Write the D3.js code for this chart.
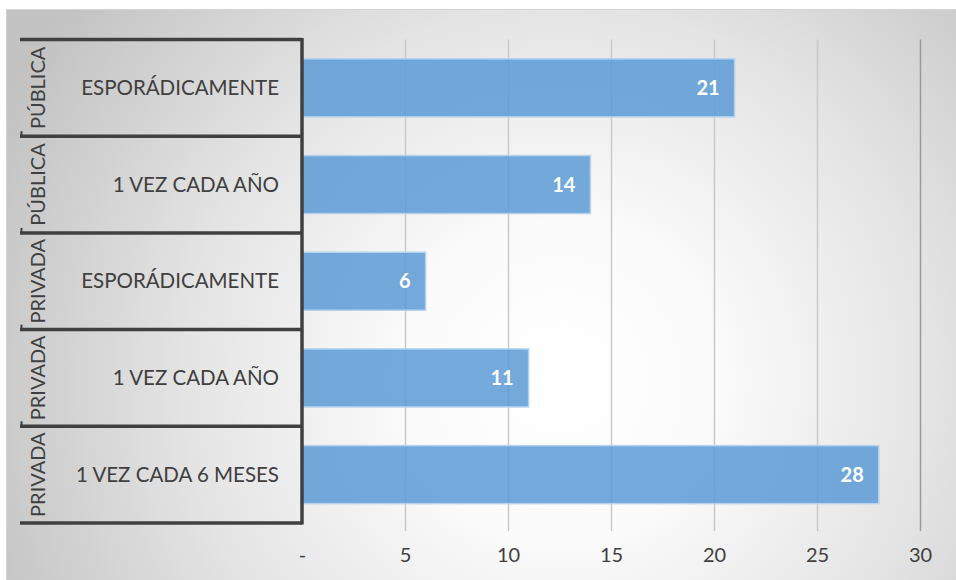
<!DOCTYPE html>
<html>
<head>
<meta charset="utf-8">
<script src="https://cdn.jsdelivr.net/npm/d3@7"></script>
<style>
  html, body { margin: 0; padding: 0; background: #ffffff; }
  svg { display: block; font-family: Lato, "Open Sans", sans-serif; }
</style>
</head>
<body>
<svg id="chart" width="956" height="580"></svg>
<script>
// Sector of each row (outer category level)
const sectors = ["PÚBLICA", "PÚBLICA", "PRIVADA", "PRIVADA", "PRIVADA"];
// Frequency of each row (inner category level)
const frequencies = ["ESPORÁDICAMENTE", "1 VEZ CADA AÑO", "ESPORÁDICAMENTE", "1 VEZ CADA AÑO", "1 VEZ CADA 6 MESES"];
// Number of responses per row
const counts = [21, 14, 6, 11, 28];
// Value axis ticks
const xTicks = [0, 5, 10, 15, 20, 25, 30];

const rows = sectors.map((s, i) => ({ key: i, sector: s, freq: frequencies[i], value: counts[i] }));

const svg = d3.select("#chart");
const W = 956, H = 580;

// Chart area background with radial shading
const defs = svg.append("defs");
const grad = defs.append("radialGradient")
  .attr("id", "bg")
  .attr("gradientUnits", "userSpaceOnUse")
  .attr("cx", 560).attr("cy", 380).attr("r", 620)
  .attr("fx", 560).attr("fy", 380);
grad.append("stop").attr("offset", "0").attr("stop-color", "#ffffff");
grad.append("stop").attr("offset", "0.25").attr("stop-color", "#fbfbfb");
grad.append("stop").attr("offset", "0.6").attr("stop-color", "#e4e4e4");
grad.append("stop").attr("offset", "1").attr("stop-color", "#c2c2c2");

svg.append("rect")
  .attr("x", 6).attr("y", 9)
  .attr("width", W - 6).attr("height", H - 9)
  .attr("fill", "url(#bg)");
svg.append("path")
  .attr("d", `M6.5,${H} V9.5 H${W}`)
  .attr("fill", "none")
  .attr("stroke", "#d4d4d4")
  .attr("stroke-width", 1);

// Plot geometry
const plotLeft = 302, plotRight = 920;
const plotTop = 39.5, plotBottom = 523;

const x = d3.scaleLinear().domain([0, 30]).range([plotLeft, plotRight]);
const y = d3.scaleBand()
  .domain(rows.map(d => d.key))
  .range([plotTop, plotBottom])
  .paddingInner(0.4)
  .paddingOuter(0.2);
const rowStep = y.step();

// Vertical gridlines
svg.append("g")
  .selectAll("line")
  .data(xTicks.filter(t => t > 0))
  .join("line")
  .attr("x1", d => Math.round(x(d)) + 0.5)
  .attr("x2", d => Math.round(x(d)) + 0.5)
  .attr("y1", plotTop)
  .attr("y2", plotBottom + 8)
  .attr("stroke", (d, i, n) => i === n.length - 1 ? "#9a9a9a" : "#c9c9c9")
  .attr("stroke-width", 1.5);

// Bars
svg.append("g")
  .selectAll("rect")
  .data(rows)
  .join("rect")
  .attr("x", x(0))
  .attr("y", d => y(d.key))
  .attr("width", d => x(d.value) - x(0))
  .attr("height", y.bandwidth())
  .attr("fill", "#5b9bd5")
  .attr("fill-opacity", 0.85)
  .attr("stroke", "#b4d2ee")
  .attr("stroke-width", 1.5);

// Value labels inside the bar ends
svg.append("g")
  .selectAll("text")
  .data(rows)
  .join("text")
  .attr("x", d => x(d.value) - 15)
  .attr("y", d => y(d.key) + y.bandwidth() / 2)
  .attr("dy", "0.35em")
  .attr("text-anchor", "end")
  .attr("fill", "#ffffff")
  .attr("font-weight", "bold")
  .attr("font-size", 20)
  .text(d => d3.format(".0f")(d.value));

// Value axis labels
const xAxis = d3.axisBottom(x)
  .tickValues(xTicks)
  .tickSize(0)
  .tickPadding(0)
  .tickFormat(d => d === 0 ? "-" : d3.format("d")(d));
const gx = svg.append("g")
  .attr("transform", `translate(0, 548)`)
  .call(xAxis);
gx.select(".domain").remove();
gx.selectAll("text")
  .attr("font-family", "Lato, sans-serif")
  .attr("font-size", 20)
  .attr("fill", "#404040");

// Two-level category axis
const catLeft = 20;
const cat = svg.append("g");

// Row separators
const bounds = d3.range(rows.length + 1).map(i => plotTop + i * rowStep);
cat.selectAll("line.sep")
  .data(bounds)
  .join("line")
  .attr("class", "sep")
  .attr("x1", catLeft).attr("x2", plotLeft)
  .attr("y1", d => d).attr("y2", d => d)
  .attr("stroke", "#404040")
  .attr("stroke-width", 3.5);

// Small marks at the outer edge of each separator
cat.selectAll("line.mark")
  .data(bounds.slice(1, -1))
  .join("line")
  .attr("class", "mark")
  .attr("x1", catLeft + 1.5).attr("x2", catLeft + 1.5)
  .attr("y1", d => d - 5).attr("y2", d => d)
  .attr("stroke", "#404040")
  .attr("stroke-width", 2);

// Axis line
cat.append("line")
  .attr("x1", plotLeft).attr("x2", plotLeft)
  .attr("y1", plotTop - 1.5).attr("y2", plotBottom + 1.5)
  .attr("stroke", "#404040")
  .attr("stroke-width", 3.5);

// Inner labels
cat.selectAll("text.freq")
  .data(rows)
  .join("text")
  .attr("class", "freq")
  .attr("x", 279)
  .attr("y", d => plotTop + d.key * rowStep + rowStep / 2)
  .attr("dy", "0.35em")
  .attr("text-anchor", "end")
  .attr("fill", "#404040")
  .attr("font-size", 20.5)
  .text(d => d.freq);

// Outer labels, rotated
cat.selectAll("text.sector")
  .data(rows)
  .join("text")
  .attr("class", "sector")
  .attr("transform", d => `translate(38, ${plotTop + d.key * rowStep + rowStep / 2}) rotate(-90)`)
  .attr("dy", "0.35em")
  .attr("text-anchor", "middle")
  .attr("fill", "#404040")
  .attr("font-size", 20)
  .text(d => d.sector);
</script>
</body>
</html>
